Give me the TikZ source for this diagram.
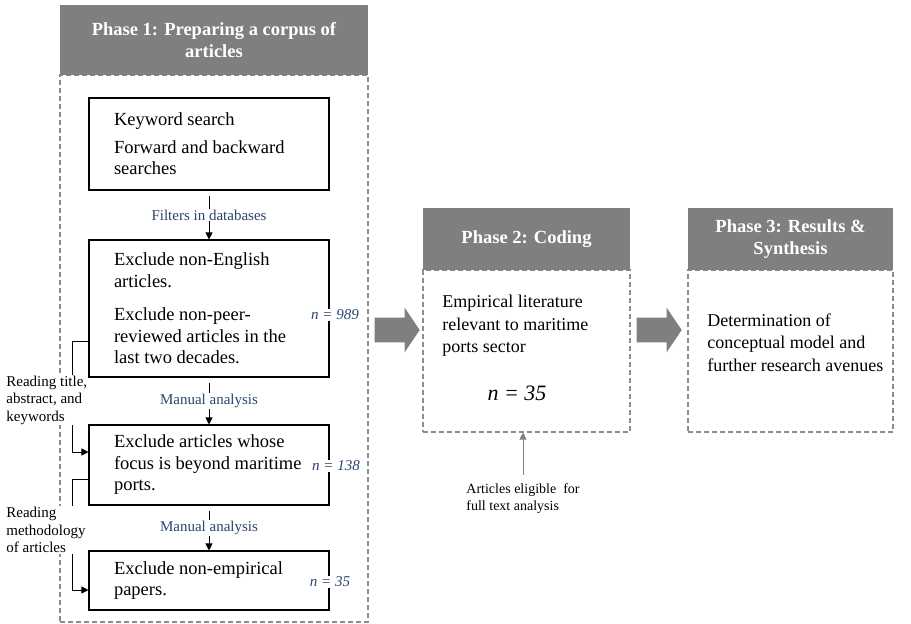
\documentclass[tikz,border=0pt]{standalone}
\usepackage{fontspec}
\setmainfont{Liberation Serif}
\usetikzlibrary{shapes.arrows,arrows.meta}
\definecolor{headgray}{HTML}{7F7F7F}
\definecolor{framegray}{HTML}{8C8C8C}
\definecolor{labblue}{HTML}{2B4470}
\begin{document}
\begin{tikzpicture}[x=1pt,y=-1pt,>={Triangle[length=7pt,width=7pt]},thick,
    step box/.style={draw,line width=1.1pt,minimum width=240pt,inner sep=0pt,text width=215pt,align=flush left,execute at begin node={\leftskip=12.5pt},font=\fontsize{18.5}{21.5}\selectfont},
    head box/.style={fill=headgray,text=white,inner sep=0pt,align=center,font=\bfseries\fontsize{18.5}{22}\selectfont},
    frame box/.style={draw=framegray,line width=1.1pt,dash pattern=on 5pt off 3pt,inner sep=0pt},
    flow label/.style={fill=white,inner sep=1pt,text=labblue,font=\fontsize{15}{17}\selectfont},
    count label/.style={fill=white,inner sep=1pt,text=labblue,font=\itshape\fontsize{15}{18}\selectfont},
    side label/.style={fill=white,inner sep=1pt,anchor=west,align=left,font=\fontsize{15}{17.5}\selectfont},
    big arrow/.style={single arrow,fill=headgray,inner xsep=0pt,inner ysep=12pt,single arrow head extend=10pt,single arrow tip angle=112,minimum height=45pt}]
  \useasboundingbox (0,0) rectangle (911,624);

  % phase 1
  \node[frame box,minimum width=308pt,minimum height=547pt] (f1) at (214,348.5) {};
  \node[head box,minimum width=308pt,minimum height=70pt] (h1) at (214,40) {Phase 1: Preparing a corpus of\\articles};

  \node[step box,minimum height=92pt] (kw) at (209,144) {Keyword search\\[6pt]Forward and backward\\searches};
  \node[step box,minimum height=137pt] (ex1) at (209,308.5) {Exclude non-English\\articles.\\[12pt]Exclude non-peer-\\reviewed articles in the\\last two decades.};
  \node[step box,minimum height=80pt] (ex2) at (209,465) {Exclude articles whose\\focus is beyond maritime\\ports.};
  \node[step box,minimum height=59pt] (ex3) at (209,580.5) {Exclude non-empirical\\papers.};

  \draw[->,shorten <=5pt] (kw) -- (ex1) node[midway,flow label] (db) {Filters in databases};
  \draw[->,shorten <=5pt] (ex1) -- (ex2) node[midway,flow label] (ma1) {Manual analysis};
  \draw[->,shorten <=5pt] (ex2) -- (ex3) node[midway,flow label] (ma2) {Manual analysis};

  \node[count label] (n1) at (335,315) {n = 989};
  \node[count label] (n2) at (336,466) {n = 138};
  \node[count label] (n3) at (330,582) {n = 35};

  \draw[->] ([yshift=-32.5pt]ex1.west) -- ++(-16,0) |- ([yshift=13pt]ex2.west);
  \draw[->] ([yshift=-14pt]ex2.west) -- ++(-16,0) |- ([yshift=-9.5pt]ex3.west);
  \node[side label] (rd1) at (5,400) {Reading title,\\abstract, and\\keywords};
  \node[side label] (rd2) at (5,530) {Reading\\methodology\\of articles};

  % phase 2
  \node[frame box,minimum width=207pt,minimum height=162pt] (f2) at (526.5,351) {};
  \node[head box,minimum width=207pt,minimum height=62pt] (h2) at (526.5,239) {Phase 2: Coding};
  \node[anchor=west,align=left,inner sep=0pt,font=\fontsize{18}{22.5}\selectfont] (lit) at (442,326) {Empirical literature\\relevant to maritime\\ports sector};
  \node[font=\itshape\fontsize{22}{26}\selectfont] (n4) at (517,393) {n = 35};
  \node[align=left,inner sep=0pt,font=\fontsize{14}{17}\selectfont] (elig) at (523,498.5) {Articles eligible\ \ for\\full text analysis};
  \draw[->,headgray,line width=1pt,shorten <=8pt] (elig.north) -- (elig.north |- f2.south);

  % phase 3
  \node[frame box,minimum width=205pt,minimum height=162pt] (f3) at (790.5,351) {};
  \node[head box,minimum width=205pt,minimum height=62pt] (h3) at (790.5,239) {Phase 3: Results \&\\Synthesis};
  \node[anchor=west,align=left,inner sep=0pt,font=\fontsize{18}{22.5}\selectfont] (det) at (707,342.5) {Determination of\\conceptual model and\\further research avenues};

  \node[big arrow] (a1) at (393,330) {};
  \node[big arrow] (a2) at (655,330) {};
\end{tikzpicture}
\end{document}
